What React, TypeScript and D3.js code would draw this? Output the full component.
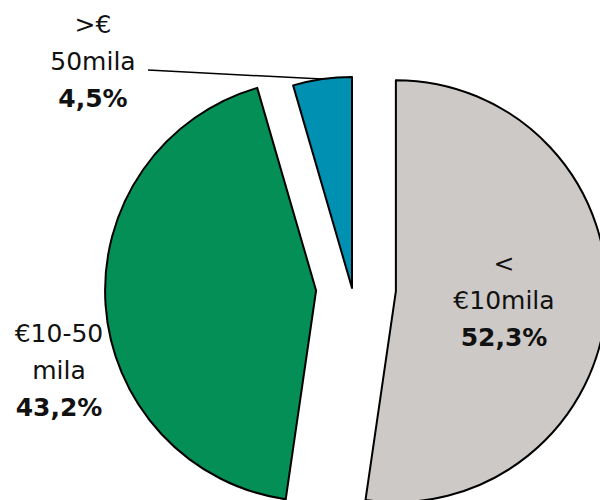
import React from "react";
import * as d3 from "d3";

// chart data
const categories = ["< €10mila", "€10-50 mila", ">€ 50mila"];
const values = [52.3, 43.2, 4.5];
const colors = ["#cdc9c6", "#038f56", "#0090b2"];
const labelLines = [
  ["<", "€10mila"],
  ["€10-50", "mila"],
  [">€", "50mila"],
];
const pctLabels = ["52,3%", "43,2%", "4,5%"];

// layout
const width = 600;
const height = 500;
const center = { x: 352, y: 288 };
const radius = 211;
const explode = [44, 36, 0];
const labelPos = [
  { x: 504, y: 272 },
  { x: 59, y: 342 },
  { x: 93, y: 33 },
];
const lineGap = 37;
const font = "'DejaVu Sans', sans-serif";

type Row = { name: string; value: number; idx: number };

const App = () => {
  const rows: Row[] = categories.map((name, idx) => ({ name, value: values[idx], idx }));

  const pie = d3
    .pie<Row>()
    .sort(null)
    .value((d) => d.value)
    .startAngle(0)
    .endAngle(2 * Math.PI);

  const arc = d3.arc<d3.PieArcDatum<Row>>().innerRadius(0).outerRadius(radius);

  const slices = pie(rows);

  // small slice leader line: from label to middle of its outer arc
  const small = slices[2];
  const midA = (small.startAngle + small.endAngle) / 2;
  const leaderEnd = {
    x: center.x + Math.sin(midA) * radius,
    y: center.y - Math.cos(midA) * radius,
  };

  return (
    <svg
      width={width}
      height={height}
      style={{ position: "absolute", left: 0, top: 0, background: "#fff" }}
    >
      <g transform={`translate(${center.x},${center.y})`}>
        {slices.map((s, i) => {
          const a = (s.startAngle + s.endAngle) / 2;
          const dx = Math.sin(a) * explode[i];
          const dy = -Math.cos(a) * explode[i];
          return (
            <path
              key={i}
              d={arc(s) || ""}
              transform={`translate(${dx},${dy})`}
              fill={colors[i]}
              stroke="#000"
              strokeWidth={2}
              strokeLinejoin="round"
            />
          );
        })}
      </g>

      <line
        x1={148}
        y1={70}
        x2={leaderEnd.x}
        y2={leaderEnd.y}
        stroke="#000"
        strokeWidth={1.5}
      />

      {slices.map((s, i) => (
        <text
          key={"t" + i}
          x={labelPos[i].x}
          y={labelPos[i].y}
          textAnchor="middle"
          fontFamily={font}
          fontSize={25}
          fill="#111"
        >
          {labelLines[i].map((ln, j) => (
            <tspan key={j} x={labelPos[i].x} dy={j === 0 ? 0 : lineGap}>
              {ln}
            </tspan>
          ))}
          <tspan x={labelPos[i].x} dy={lineGap} fontWeight="bold">
            {pctLabels[i]}
          </tspan>
        </text>
      ))}
    </svg>
  );
};

export default App;
